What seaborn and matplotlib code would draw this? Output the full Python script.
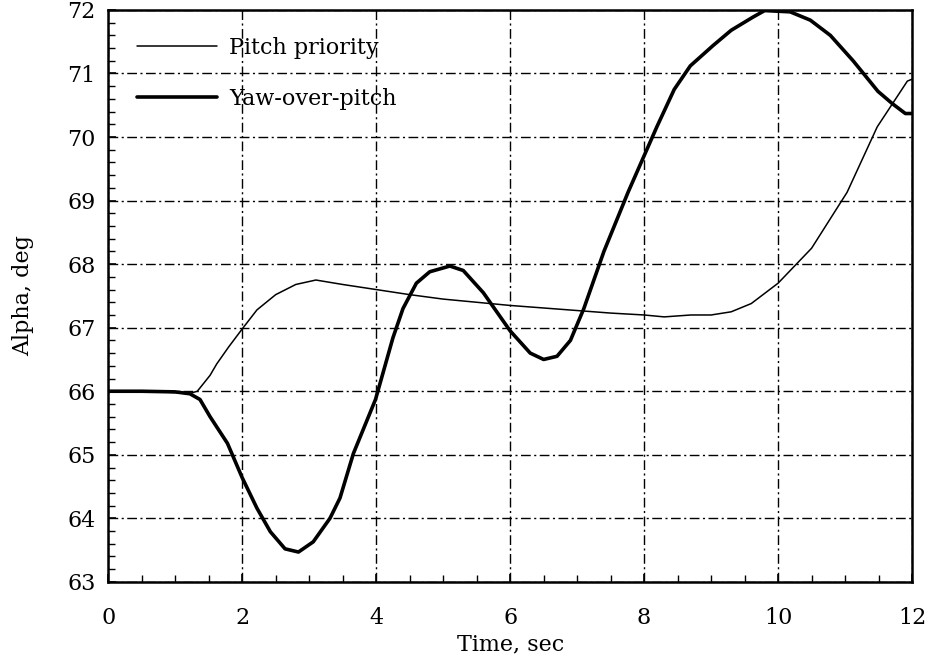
import matplotlib
matplotlib.use("Agg")
import matplotlib.pyplot as plt
from matplotlib.ticker import MultipleLocator
import seaborn as sns
import pandas as pd

# Pitch priority (thin line)
pitch_t = [0.0, 0.5, 1.0, 1.2, 1.33, 1.52, 1.62, 1.8, 2.0, 2.22, 2.5, 2.8, 3.1, 3.5, 4.0,
           4.5, 5.0, 5.5, 6.0, 6.5, 7.0, 7.5, 8.0, 8.3, 8.7, 9.0, 9.3, 9.6, 10.0, 10.5,
           11.03, 11.48, 11.93, 12.0]
pitch_a = [66.0, 66.0, 65.98, 65.96, 66.0, 66.25, 66.43, 66.7, 66.98, 67.28, 67.52, 67.68, 67.75, 67.68, 67.6,
           67.52, 67.45, 67.4, 67.35, 67.31, 67.27, 67.23, 67.2, 67.17, 67.2, 67.2, 67.25, 67.38, 67.7, 68.25,
           69.13, 70.16, 70.88, 70.91]

# Yaw-over-pitch (thick line)
yaw_t = [0.0, 0.5, 1.0, 1.22, 1.37, 1.52, 1.78, 2.0, 2.22, 2.42, 2.64, 2.84, 3.06, 3.31, 3.46,
         3.66, 3.99, 4.25, 4.4, 4.6, 4.8, 5.1, 5.3, 5.6, 6.0, 6.3, 6.5, 6.7, 6.9, 7.1,
         7.4, 7.76, 8.19, 8.45, 8.69, 9.03, 9.3, 9.63, 9.8, 10.18, 10.48, 10.78, 11.12, 11.49, 11.7, 11.9, 12.0]
yaw_a = [66.0, 66.0, 65.99, 65.96, 65.87, 65.6, 65.18, 64.64, 64.16, 63.79, 63.52, 63.47, 63.63, 64.0, 64.32,
         65.02, 65.87, 66.84, 67.3, 67.7, 67.88, 67.97, 67.9, 67.55, 66.95, 66.6, 66.5, 66.55, 66.8, 67.3,
         68.2, 69.13, 70.16, 70.75, 71.12, 71.44, 71.68, 71.89, 71.99, 71.97, 71.84, 71.6, 71.2, 70.72, 70.53, 70.37, 70.37]

x_ticks = [0, 2, 4, 6, 8, 10, 12]
y_ticks = [63, 64, 65, 66, 67, 68, 69, 70, 71, 72]

sns.set_theme(style="white")
plt.rcParams['font.family'] = ['DejaVu Serif']
plt.rcParams['text.color'] = 'black'
plt.rcParams['axes.labelcolor'] = 'black'

fig = plt.figure(figsize=(9.25, 6.62), dpi=100)
ax = fig.add_axes([0.117, 0.121, 0.869, 0.864])

df_p = pd.DataFrame({"t": pitch_t, "a": pitch_a})
df_y = pd.DataFrame({"t": yaw_t, "a": yaw_a})
sns.lineplot(data=df_p, x="t", y="a", ax=ax, color="black", linewidth=1.1, label="Pitch priority")
sns.lineplot(data=df_y, x="t", y="a", ax=ax, color="black", linewidth=2.6, label="Yaw-over-pitch")

ax.set_xlim(0, 12)
ax.set_ylim(63, 72)
ax.set_xticks(x_ticks)
ax.set_yticks(y_ticks)
ax.xaxis.set_minor_locator(MultipleLocator(0.5))
ax.yaxis.set_minor_locator(MultipleLocator(0.2))
ax.tick_params(axis="both", which="both", direction="in", colors="black",
               bottom=True, left=True, top=False, right=False)
ax.tick_params(axis="both", which="major", length=6, width=1.2, labelsize=16)
ax.tick_params(axis="x", which="major", pad=18)
ax.tick_params(axis="y", which="major", pad=9)
ax.tick_params(axis="both", which="minor", length=5, width=1.0)

ax.grid(True, which="major", color="black", linewidth=1.0, linestyle=(0, (7, 2.5, 1.5, 2.5)))
for sp in ax.spines.values():
    sp.set_color("black")
    sp.set_linewidth(1.8)

ax.set_xlabel("Time, sec", fontsize=16, labelpad=3)
ax.set_ylabel("Alpha, deg", fontsize=16, labelpad=24)

leg = ax.legend(loc="upper left", bbox_to_anchor=(0.036, 0.953), frameon=False, fontsize=16,
                handlelength=3.6, labelspacing=1.3, borderaxespad=0, borderpad=0,
                handletextpad=0.55)
for t in leg.get_texts():
    t.set_color("black")

fig.savefig("out.png", dpi=100)
